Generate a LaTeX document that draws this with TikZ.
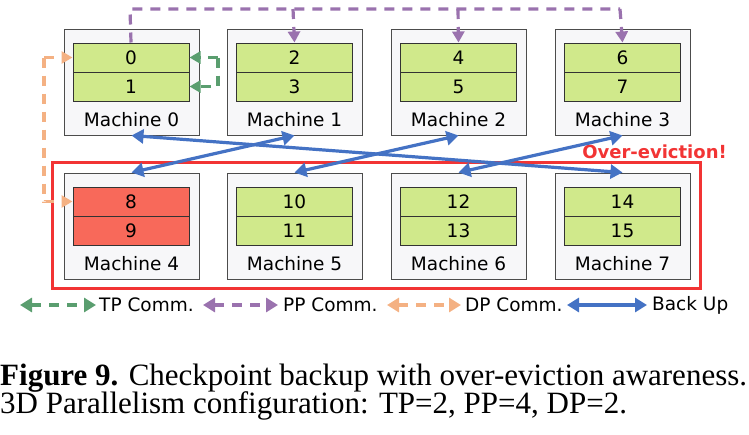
\documentclass[tikz,border=0pt]{standalone}
\usepackage{fontspec}
\setmainfont{Liberation Serif}
\newfontfamily\dvs{DejaVu Sans}
\usetikzlibrary{arrows.meta}
\definecolor{gfill}{HTML}{D0E98B}
\definecolor{rfill}{HTML}{F8695A}
\definecolor{mfill}{HTML}{F7F7F9}
\definecolor{bl}{HTML}{4472C4}
\definecolor{pp}{HTML}{9A72AE}
\definecolor{dp}{HTML}{F4B183}
\definecolor{tp}{HTML}{5A9E6F}
\definecolor{rframe}{HTML}{F23434}
\begin{document}
\begin{tikzpicture}[x=1pt,y=-1pt,
  mach/.style={draw=black!70,fill=mfill,line width=1pt,minimum width=135pt,minimum height=106pt,inner sep=0pt},
  blk/.style={draw=black!80,fill=gfill,line width=1pt,minimum width=116pt,minimum height=29pt,inner sep=0pt,font=\dvs\fontsize{18.5}{19}\selectfont},
  red/.style={fill=rfill},
  lab/.style={font=\dvs\fontsize{18.5}{19}\selectfont,inner sep=0pt},
  tip/.style={-{Triangle[length=11pt,width=12pt]}},
  dtip/.style={{Triangle[length=12pt,width=14pt]}-{Triangle[length=12pt,width=14pt]}},
  dsh/.style={line width=3.2pt,dash pattern=on 10pt off 8pt},
  bu/.style={bl,line width=3.2pt,dtip}]
\useasboundingbox (0,0) rectangle (749,434);
\foreach \i/\x/\y in {0/131.5/82,1/294.5/82,2/458.5/82,3/622.5/82,4/131.5/226,5/294.5/226,6/458.5/226,7/622.5/226}{
  \node[mach] (m\i) at (\x,\y) {};
  \node[lab] (ml\i) at (\x,\y+38) {Machine \i};
}
\foreach \a/\b/\x/\y in {0/1/131/57.5,2/3/294.5/57.5,4/5/458.5/57.5,6/7/622.5/57.5,10/11/294.5/201.5,12/13/458.5/201.5,14/15/622.5/201.5}{
  \node[blk] (b\a) at (\x,\y) {\a};
  \node[blk] (b\b) at (\x,\y+29) {\b};
}
\node[blk,red] (b8) at (131,201.5) {8};
\node[blk,red] (b9) at (131,230.5) {9};
% red frame
\node[draw=rframe,line width=3pt,minimum width=648pt,minimum height=126pt,inner sep=0pt] (frame) at (376,225) {};
\node[text=rframe,font=\dvs\bfseries\fontsize{18}{19}\selectfont,inner sep=0pt,anchor=east] (oe) at (727,152) {Over-eviction!};
% PP
\coordinate (p0) at (130,9);
\draw[pp,dsh] (b0.north) -- (p0) -- (620,9);
\draw[pp,dsh,tip] (293,9) -- (b2.north);
\draw[pp,dsh,tip] (458,9) -- (b4.north);
\draw[pp,dsh,tip] (620,9) -- (b6.north);
% TP
\draw[tp,dsh,tip] (218,57.5) -- (b0.east);
\draw[tp,dsh,tip] (218,57.5) -- (218,86.5) -- (b1.east);
% DP
\draw[dp,dsh,tip] (44,57.5) -- (b0.west);
\draw[dp,dsh,tip] (44,57.5) -- (44,201.5) -- (b8.west);
% backups
\draw[bu] (m0.south) -- (m7.north);
\draw[bu] (m1.south) -- (m4.north);
\draw[bu] (m2.south) -- (m5.north);
\draw[bu] (m3.south) -- (m6.north);
% legend
\coordinate (l1a) at (20,305); \coordinate (l1b) at (96,305);
\coordinate (l2a) at (203,305); \coordinate (l2b) at (278,305);
\coordinate (l3a) at (387,305); \coordinate (l3b) at (461,305);
\coordinate (l4a) at (567,305); \coordinate (l4b) at (647,305);
\draw[tp,dsh,dtip] (l1a) -- (l1b);
\draw[pp,dsh,dtip] (l2a) -- (l2b);
\draw[dp,dsh,dtip] (l3a) -- (l3b);
\draw[bu] (l4a) -- (l4b);
\node[lab,anchor=west] (t1) at (99,305) {TP Comm.};
\node[lab,anchor=west] (t2) at (283,305) {PP Comm.};
\node[lab,anchor=west] (t3) at (465,305) {DP Comm.};
\node[lab,anchor=west] (t4) at (652,305) {Back Up};
% caption
\node[anchor=west,inner sep=0pt,font=\fontsize{31}{33}\selectfont] (c1) at (0,378) {\textbf{Figure 9.} Checkpoint backup with over-eviction awareness.};
\node[anchor=west,inner sep=0pt,font=\fontsize{31}{33}\selectfont] (c2) at (0,406) {3D Parallelism configuration: TP=2, PP=4, DP=2.};
\end{tikzpicture}
\end{document}
